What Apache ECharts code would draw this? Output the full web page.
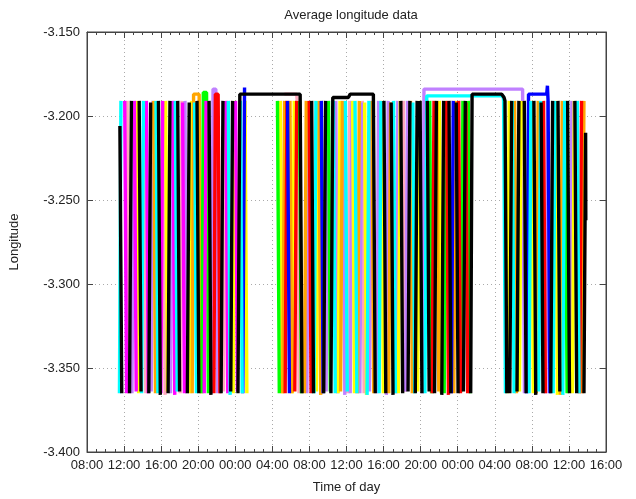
<!DOCTYPE html>
<html>
<head>
<meta charset="utf-8">
<script src="https://cdn.jsdelivr.net/npm/echarts@6/dist/echarts.min.js"></script>
<style>
html,body{margin:0;padding:0;background:#fff;}
#chart{width:636px;height:499px;}
</style>
</head>
<body>
<div id="chart"></div>
<script>
// x values: hours since 08:00 of day 1; null y = gap between trips
const xTickLabels = ['08:00','12:00','16:00','20:00','00:00','04:00','08:00','12:00','16:00','20:00','00:00','04:00','08:00','12:00','16:00'];

const black = [[3.55,-3.206],[3.75,-3.365],[3.75,null],[4.59,-3.365],[4.79,-3.191],[4.79,null],[5.63,-3.191],[5.83,-3.364],[5.83,null],[6.67,-3.365],[6.87,-3.192],[6.87,null],[7.71,-3.191],[7.91,-3.366],[7.91,null],[8.75,-3.365],[8.95,-3.191],[8.95,null],[9.79,-3.191],[9.99,-3.364],[9.99,null],[10.83,-3.365],[11.03,-3.192],[11.03,null],[11.87,-3.191],[12.07,-3.365],[12.07,null],[13.17,-3.191],[13.37,-3.366],[13.37,null],[14.47,-3.365],[14.67,-3.191],[14.67,null],[15.51,-3.364],[15.71,-3.191],[15.71,null],
[16.29,-3.365],[16.49,-3.187],[23.0,-3.187],[23.2,-3.365],[23.2,null],[24.24,-3.191],[24.44,-3.365],[24.44,null],[25.54,-3.365],[25.74,-3.191],[25.74,null],
[26.32,-3.365],[26.52,-3.189],[28.2,-3.189],[28.4,-3.187],[30.9,-3.187],[31.1,-3.365],[31.1,null],
[32.04,-3.191],[32.24,-3.365],[32.24,null],[32.82,-3.192],[33.02,-3.366],[33.02,null],[33.86,-3.191],[34.06,-3.365],[34.06,null],[34.64,-3.364],[34.84,-3.191],[34.84,null],[35.42,-3.365],[35.62,-3.191],[35.62,null],[35.94,-3.191],[36.14,-3.365],[36.14,null],[36.72,-3.191],[36.92,-3.364],[36.92,null],[37.50,-3.365],[37.70,-3.191],[37.70,null],[38.28,-3.366],[38.48,-3.191],[38.48,null],[39.06,-3.191],[39.26,-3.365],[39.26,null],[39.84,-3.192],[40.04,-3.365],[40.04,null],[40.62,-3.364],[40.82,-3.191],[40.82,null],
[41.40,-3.365],[41.55,-3.187],[44.75,-3.187],[45.0,-3.189],[45.1,-3.191],[45.3,-3.365],[45.3,null],
[45.62,-3.365],[45.82,-3.191],[45.82,null],[46.40,-3.364],[46.60,-3.191],[46.60,null],[47.18,-3.191],[47.38,-3.365],[47.38,null],[48.22,-3.191],[48.42,-3.366],[48.42,null],[49.00,-3.192],[49.20,-3.365],[49.20,null],[50.04,-3.365],[50.24,-3.191],[50.24,null],[50.82,-3.191],[51.02,-3.364],[51.02,null],[51.86,-3.191],[52.06,-3.365],[52.06,null],[52.64,-3.191],[52.84,-3.365],[52.84,null],[53.62,-3.365],[53.80,-3.210],[53.82,-3.262]];

const cyan = [[3.50,-3.365],[3.66,-3.191],[3.66,null],[5.89,-3.365],[6.09,-3.191],[6.09,null],[7.45,-3.191],[7.65,-3.365],[7.65,null],[9.53,-3.191],[9.73,-3.364],[9.73,null],[11.61,-3.192],[11.81,-3.365],[11.81,null],[15.25,-3.191],[15.45,-3.366],[15.45,null],[16.55,-3.191],[16.75,-3.365],[16.75,null],
[24.50,-3.365],[24.70,-3.191],[24.70,null],[26.58,-3.191],[26.78,-3.365],[26.78,null],[27.88,-3.191],[28.08,-3.364],[28.08,null],[28.92,-3.191],[29.12,-3.365],[29.12,null],[30.22,-3.366],[30.42,-3.191],[30.42,null],[31.52,-3.365],[31.72,-3.191],[31.72,null],[33.08,-3.191],[33.28,-3.365],[33.28,null],[35.16,-3.192],[35.36,-3.365],[35.36,null],
[36.46,-3.365],[36.66,-3.188],[44.9,-3.188],[44.95,-3.191],[45.15,-3.365],[45.15,null],
[45.88,-3.191],[46.08,-3.365],[46.08,null],[47.70,-3.365],[47.90,-3.191],[47.90,null],[48.74,-3.364],[48.94,-3.191],[48.94,null],[50.30,-3.365],[50.50,-3.191],[50.50,null],[51.34,-3.366],[51.54,-3.191],[51.54,null],[52.90,-3.191],[53.10,-3.365]];

const magenta = [[4.07,-3.191],[4.27,-3.365],[4.27,null],[5.11,-3.191],[5.31,-3.364],[5.31,null],[6.41,-3.191],[6.61,-3.365],[6.61,null],[7.97,-3.365],[8.17,-3.191],[8.17,null],[9.27,-3.191],[9.47,-3.366],[9.47,null],[10.31,-3.192],[10.51,-3.365],[10.51,null],[12.65,-3.365],[12.85,-3.191],[12.85,null],[14.99,-3.191],[15.19,-3.365],[15.19,null],[16.03,-3.191],[16.23,-3.364]];

const pink = [[4.33,-3.191],[4.53,-3.365],[4.53,null],[6.15,-3.191],[6.35,-3.365],[6.35,null],[8.23,-3.192],[8.43,-3.366],[8.43,null],[10.05,-3.365],[10.25,-3.191],[10.25,null],[14.73,-3.364],[14.93,-3.191],[14.93,null],
[21.3,-3.187],[22.62,-3.187],[22.68,-3.191],[22.88,-3.365],[22.88,null],[28.14,-3.365],[28.34,-3.191],[28.34,null],[29.70,-3.191],[29.90,-3.365],[29.90,null],[34.12,-3.191],[34.32,-3.364]];

const lavender = [[4.85,-3.365],[5.05,-3.191],[5.05,null],[6.93,-3.364],[7.13,-3.191],[7.13,null],[9.01,-3.365],[9.21,-3.191],[9.21,null],[10.57,-3.191],[10.77,-3.365],[10.77,null],[13.43,-3.365],[13.6,-3.184],[13.9,-3.184],[14.1,-3.365],[14.1,null],
[23.72,-3.365],[23.92,-3.191],[23.92,null],[25.80,-3.364],[26.00,-3.191],[26.00,null],[26.84,-3.191],[27.04,-3.365],[27.04,null],[27.62,-3.191],[27.82,-3.366],[27.82,null],[28.40,-3.365],[28.60,-3.191],[28.60,null],[29.44,-3.365],[29.64,-3.192],[29.64,null],[30.48,-3.364],[30.68,-3.191],[30.68,null],[31.26,-3.365],[31.46,-3.191],[31.46,null],[32.30,-3.366],[32.50,-3.191],[32.50,null],[33.34,-3.365],[33.54,-3.191],[33.54,null],[34.38,-3.364],[34.58,-3.191],[34.58,null],
[36.20,-3.365],[36.36,-3.184],[47.0,-3.184],[47.2,-3.365],[47.2,null],[49.52,-3.365],[49.72,-3.191],[49.72,null],[52.12,-3.364],[52.32,-3.191]];

const yellow = [[5.37,-3.191],[5.57,-3.365],[5.57,null],[8.49,-3.191],[8.69,-3.364],[8.69,null],[11.09,-3.365],[11.29,-3.191],[11.29,null],[15.77,-3.365],[15.97,-3.191],[15.97,null],[17.05,-3.191],[17.25,-3.365],[17.25,null],
[20.86,-3.191],[21.06,-3.365],[21.06,null],[22.16,-3.365],[22.36,-3.191],[22.36,null],[24.76,-3.364],[24.96,-3.191],[24.96,null],[27.10,-3.365],[27.30,-3.191],[27.30,null],[28.66,-3.191],[28.86,-3.365],[28.86,null],[29.96,-3.192],[30.16,-3.366],[30.16,null],[31.78,-3.191],[31.98,-3.365],[31.98,null],[33.60,-3.365],[33.80,-3.191],[33.80,null],[35.68,-3.364],[35.88,-3.191],[35.88,null],[38.02,-3.191],[38.22,-3.365],[38.22,null],
[45.36,-3.365],[45.56,-3.191],[45.56,null],[46.66,-3.364],[46.86,-3.191],[46.86,null],[47.96,-3.191],[48.16,-3.365],[48.16,null],[50.56,-3.191],[50.76,-3.366],[50.76,null],[52.38,-3.365],[52.58,-3.191]];

const orange = [[7.19,-3.191],[7.39,-3.365],[7.39,null],[11.35,-3.365],[11.5,-3.187],[12.1,-3.187],[12.3,-3.365],[12.3,null],
[21.12,-3.365],[21.32,-3.191],[21.32,null],[21.90,-3.191],[22.10,-3.365],[22.10,null],[23.46,-3.365],[23.66,-3.191],[23.66,null],[25.02,-3.191],[25.22,-3.366],[25.22,null],[27.36,-3.364],[27.56,-3.191],[27.56,null],[29.18,-3.365],[29.38,-3.191],[29.38,null],[30.74,-3.191],[30.94,-3.365],[30.94,null],[32.56,-3.365],[32.76,-3.192],[32.76,null],[34.90,-3.191],[35.10,-3.365],[35.10,null],[37.76,-3.191],[37.96,-3.364],[37.96,null],[39.58,-3.365],[39.78,-3.191],[39.78,null],
[46.14,-3.191],[46.34,-3.365],[46.34,null],[48.48,-3.365],[48.68,-3.191],[48.68,null],[51.08,-3.366],[51.28,-3.191],[51.28,null],[53.42,-3.365],[53.62,-3.191]];

const green = [[12.39,-3.365],[12.55,-3.186],[12.9,-3.186],[13.1,-3.365],[13.1,null],
[20.55,-3.191],[20.75,-3.365],[20.75,null],[22.94,-3.191],[23.14,-3.365],[23.14,null],[26.06,-3.191],[26.26,-3.364],[26.26,null],[36.98,-3.191],[37.18,-3.365],[37.18,null],[38.54,-3.365],[38.74,-3.191],[38.74,null],[40.36,-3.364],[40.56,-3.191],[40.56,null],[41.14,-3.191],[41.34,-3.365],[41.34,null],
[51.60,-3.191],[51.80,-3.365]];

const red = [[13.69,-3.365],[13.85,-3.187],[14.15,-3.187],[14.35,-3.365],[14.35,null],
[21.38,-3.365],[21.58,-3.191],[21.58,null],[22.42,-3.364],[22.62,-3.191],[22.62,null],[23.98,-3.191],[24.18,-3.365],[24.18,null],[37.24,-3.365],[37.44,-3.191],[37.44,null],[38.80,-3.191],[39.00,-3.366],[39.00,null],[40.10,-3.191],[40.30,-3.365],[40.30,null],[40.88,-3.192],[41.08,-3.365],[41.08,null],
[49.26,-3.191],[49.46,-3.365],[49.46,null],[53.16,-3.365],[53.36,-3.191]];

const blue = [[16.81,-3.365],[17.0,-3.183],[17.0,null],
[21.64,-3.191],[21.84,-3.365],[21.84,null],[25.28,-3.191],[25.48,-3.365],[25.48,null],[39.32,-3.365],[39.52,-3.191],[39.52,null],
[47.44,-3.365],[47.64,-3.187],[49.6,-3.187],[49.68,-3.182],[49.75,-3.191],[49.95,-3.365]];

const seriesNames = ['pink','lavender','yellow','orange','green','red','blue','magenta','cyan','black'];
const seriesData = [pink, lavender, yellow, orange, green, red, blue, magenta, cyan, black];
const seriesColors = ['#ffa8bc','#c080ff','#ffff00','#ffa500','#00ff00','#ff0000','#0000ff','#ff00ff','#00ffff','#000000'];

const chart = echarts.init(document.getElementById('chart'), null, {renderer: 'canvas'});
const FONT = 'Liberation Sans, Arial, sans-serif';
const axisColor = '#444';

const option = {
  animation: false,
  backgroundColor: '#fff',
  title: {
    text: 'Average longitude data',
    left: 346, top: 4, textAlign: 'center',
    textStyle: {fontSize: 13, fontWeight: 'normal', color: '#222', fontFamily: FONT}
  },
  grid: {left: 87, right: 30, top: 32, bottom: 47, show: true, borderColor: axisColor, borderWidth: 1, backgroundColor: 'transparent'},
  xAxis: [{
    type: 'value', min: 0, max: 56, interval: 4, position: 'bottom',
    name: 'Time of day', nameLocation: 'middle', nameGap: 29,
    nameTextStyle: {fontSize: 13, color: '#222', fontFamily: FONT},
    axisLine: {show: true, onZero: false, lineStyle: {color: axisColor}},
    axisTick: {show: true, inside: true, length: 6, lineStyle: {color: axisColor}},
    minorTick: {show: true, splitNumber: 4, length: 3, lineStyle: {color: axisColor}},
    axisLabel: {fontSize: 13, color: '#222', fontFamily: FONT, margin: 7,
      formatter: function (v) { return xTickLabels[Math.round(v / 4)] || ''; }},
    splitLine: {show: true, lineStyle: {type: [1, 3], color: '#aaa'}}
  }, {
    type: 'value', min: 0, max: 56, interval: 4, position: 'top',
    axisLine: {show: true, onZero: false, lineStyle: {color: axisColor}},
    axisTick: {show: true, inside: true, length: 6, lineStyle: {color: axisColor}},
    minorTick: {show: true, splitNumber: 4, length: 3, lineStyle: {color: axisColor}},
    axisLabel: {show: false}, splitLine: {show: false}
  }],
  yAxis: [{
    type: 'value', min: -3.4, max: -3.15, interval: 0.05, position: 'left',
    name: 'Longitude', nameLocation: 'middle', nameGap: 66, nameRotate: 90,
    nameTextStyle: {fontSize: 13, color: '#222', fontFamily: FONT},
    axisLine: {show: true, onZero: false, lineStyle: {color: axisColor}},
    axisTick: {show: true, inside: true, length: 6, lineStyle: {color: axisColor}},
    axisLabel: {fontSize: 13, color: '#222', fontFamily: FONT, margin: 7,
      formatter: function (v) { return v.toFixed(3); }},
    splitLine: {show: true, lineStyle: {type: [1, 3], color: '#aaa'}}
  }, {
    type: 'value', min: -3.4, max: -3.15, interval: 0.05, position: 'right',
    axisLine: {show: true, onZero: false, lineStyle: {color: axisColor}},
    axisTick: {show: true, inside: true, length: 6, lineStyle: {color: axisColor}},
    axisLabel: {show: false}, splitLine: {show: false}
  }],
  series: seriesData.map(function (d, i) {
    return {
      name: seriesNames[i], type: 'line', data: d,
      xAxisIndex: 0, yAxisIndex: 0,
      showSymbol: false, symbol: 'none', connectNulls: false,
      lineStyle: {width: 3.4, color: seriesColors[i]},
      itemStyle: {color: seriesColors[i]},
      z: 2 + i, silent: true
    };
  })
};
chart.setOption(option);
</script>
</body>
</html>
